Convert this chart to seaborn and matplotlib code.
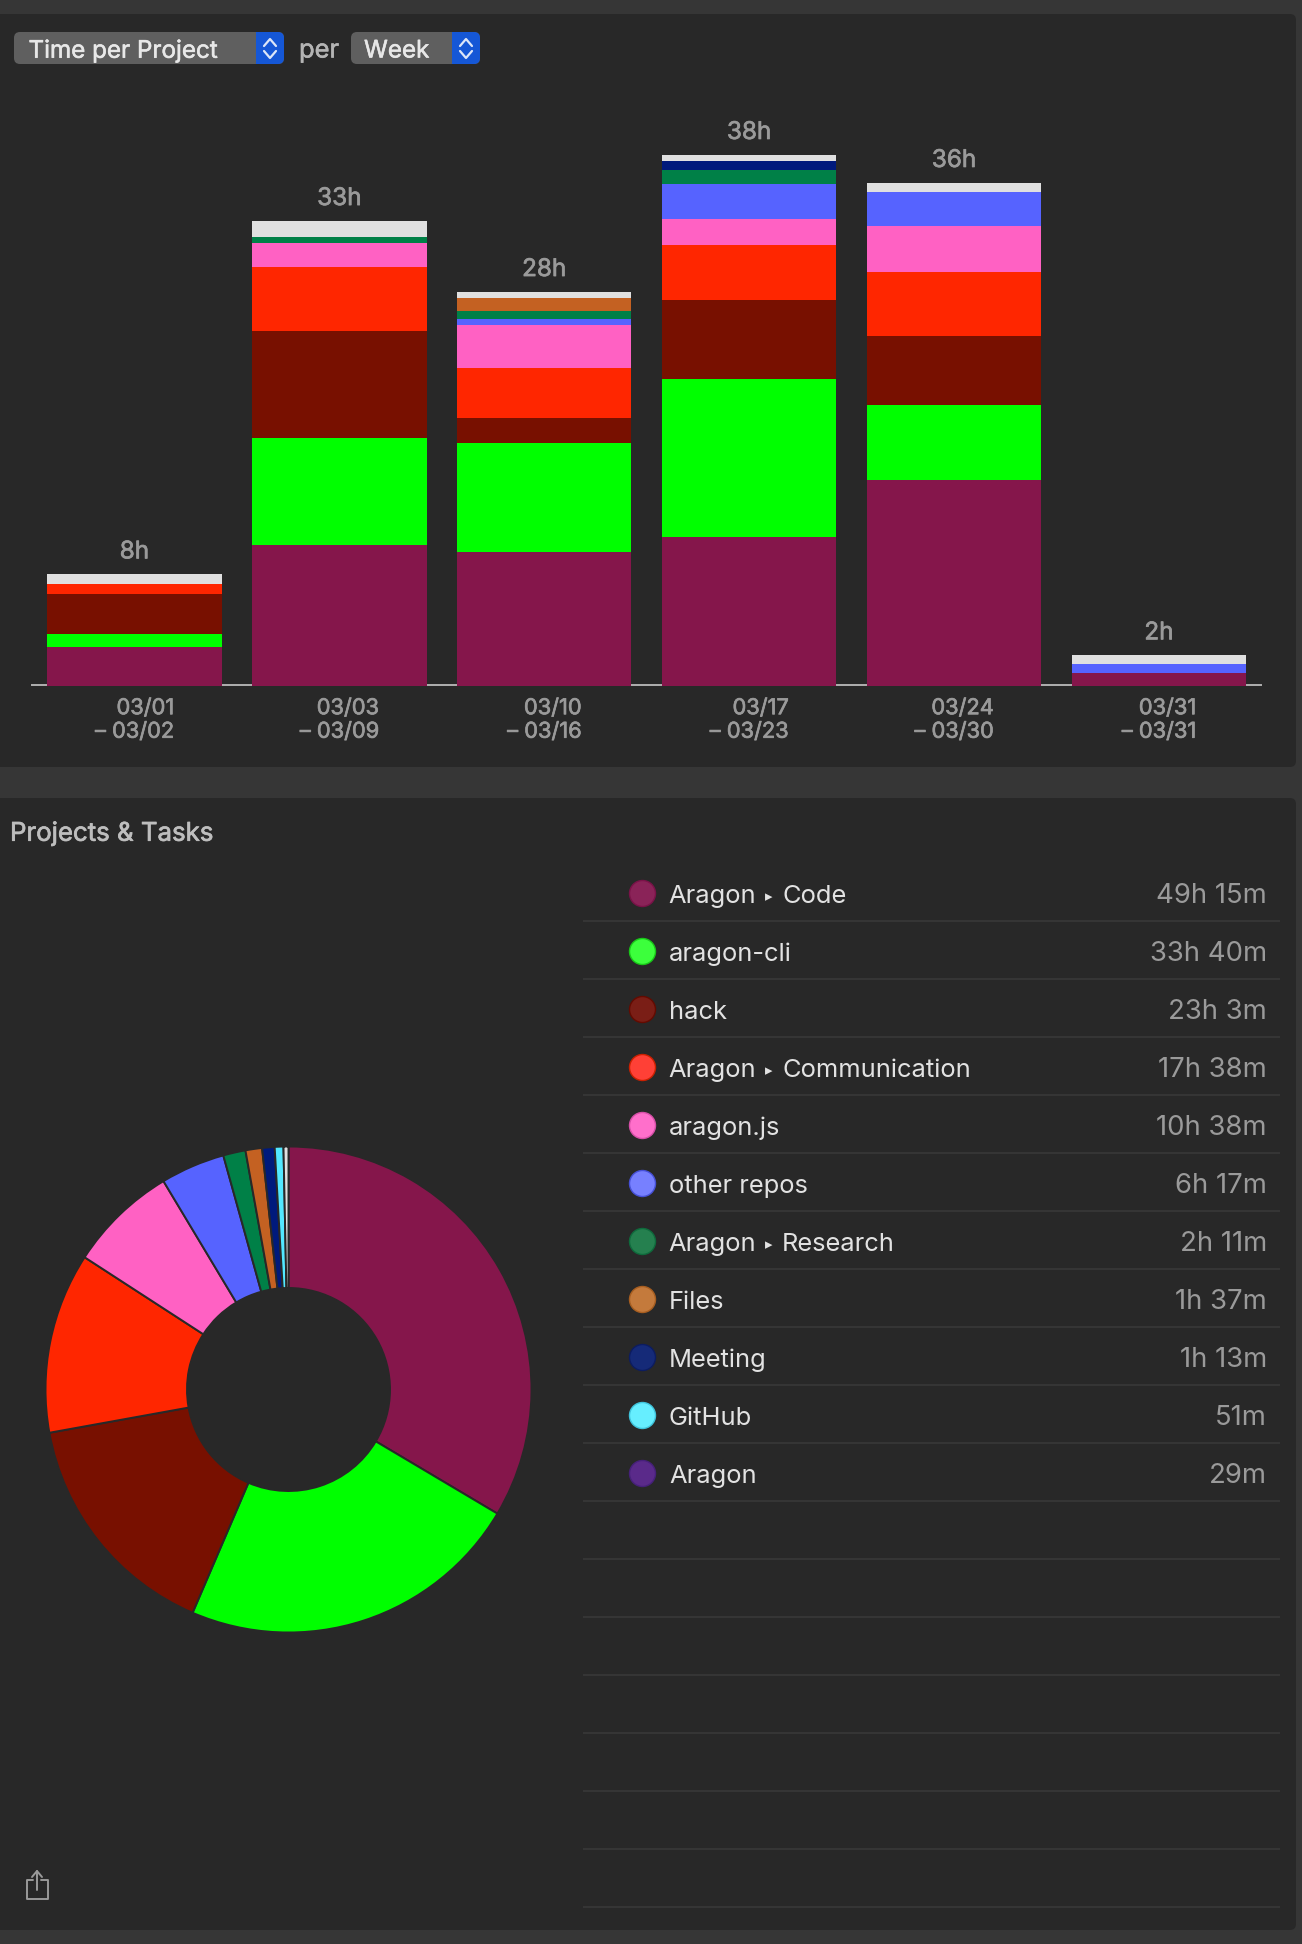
import numpy as np
import matplotlib
matplotlib.use("Agg")
import matplotlib.pyplot as plt
import matplotlib.patheffects as pe
from matplotlib.patches import FancyBboxPatch, Rectangle
import seaborn as sns

# =====================================================
# Data
# =====================================================

weeks = ["03/01\n– 03/02", "03/03\n– 03/09", "03/10\n– 03/16",
         "03/17\n– 03/23", "03/24\n– 03/30", "03/31\n– 03/31"]
total_labels = ["8h", "33h", "28h", "38h", "36h", "2h"]

# hours per week, bottom to top
code = [2.81, 10.05, 9.57, 10.64, 14.69, 0.96]
cli = [0.88, 7.69, 7.81, 11.29, 5.40, 0]
hack = [2.88, 7.62, 1.77, 5.66, 4.91, 0]
comm = [0.71, 4.57, 3.54, 3.91, 4.57, 0]
js = [0, 1.71, 3.07, 1.86, 3.31, 0]
repos = [0, 0, 0.45, 2.50, 2.39, 0.59]
research = [0, 0.41, 0.57, 1.00, 0, 0]
files = [0, 0, 0.95, 0, 0, 0]
meeting = [0, 0, 0, 0.64, 0, 0]
other = [0.69, 1.16, 0.41, 0.43, 0.66, 0.64]

stack_series = [code, cli, hack, comm, js, repos, research, files, meeting, other]
stack_colors = ["#85164B", "#00FF00", "#781000", "#FF2600", "#FF61C3",
                "#5663FF", "#008047", "#C46122", "#001A7C", "#E0E0E0"]

project_names = ["Aragon ▸ Code", "aragon-cli", "hack", "Aragon ▸ Communication",
                 "aragon.js", "other repos", "Aragon ▸ Research", "Files",
                 "Meeting", "GitHub", "Aragon"]
project_times = ["49h 15m", "33h 40m", "23h 3m", "17h 38m", "10h 38m", "6h 17m",
                 "2h 11m", "1h 37m", "1h 13m", "51m", "29m"]
project_minutes = [2955, 2020, 1383, 1058, 638, 377, 131, 97, 73, 51, 29]

pie_colors = ["#85164B", "#00FF00", "#781000", "#FF2600", "#FF61C3", "#5663FF",
              "#008047", "#C46122", "#001A7C", "#52E8FF", "#E0E0E0"]
dot_colors = ["#8A2358", "#3CFF3C", "#7A1E16", "#FF4036", "#FF6FCB", "#7780FF",
              "#25804F", "#C47A3C", "#152A78", "#66EEFF", "#5A2A8A"]
dot_edges = ["#7A1248", "#18C818", "#640A00", "#CC2000", "#D84FA8", "#4650D8",
             "#0E6B3C", "#A85E20", "#0C1C60", "#3FC4DC", "#46207A"]

# =====================================================
# Colours and page
# =====================================================

PANEL = "#282828"
BAND = "#363636"
MUTED = "#9A9A9A"

W, H = 1302, 1944
PX_PER_HOUR = 14
BASELINE = 686
PX = 0.72  # points per pixel at dpi 100

sns.set_theme(style="dark")
plt.rcParams["font.family"] = ["Inter", "DejaVu Sans"]

fig = plt.figure(figsize=(W / 100, H / 100), dpi=100, facecolor=BAND)

ui = fig.add_axes([0, 0, 1, 1])
ui.set_xlim(0, W)
ui.set_ylim(H, 0)
ui.axis("off")

for top, bottom in [(14, 767), (798, 1930)]:
    ui.add_patch(FancyBboxPatch((-20, top), 1316, bottom - top,
                                boxstyle="round,pad=0,rounding_size=6",
                                fc=PANEL, ec="none"))


def px_axes(left, top, right, bottom):
    return fig.add_axes([left / W, 1 - bottom / H, (right - left) / W, (bottom - top) / H])


def heavier(text, color, width=0.5):
    # Inter only comes in regular here, a thin stroke gives the medium look
    text.set_path_effects([pe.withStroke(linewidth=width, foreground=color)])


# =====================================================
# Dropdowns
# =====================================================

def dropdown(x0, x1, split, label, text_x):
    y0, y1 = 32, 64
    ui.add_patch(FancyBboxPatch((x0, y0), x1 - x0, y1 - y0,
                                boxstyle="round,pad=0,rounding_size=6",
                                fc="#5F5F5F", ec="none"))
    blue = FancyBboxPatch((x0, y0), x1 - x0, y1 - y0,
                          boxstyle="round,pad=0,rounding_size=6",
                          fc="#1557D6", ec="none")
    ui.add_patch(blue)
    blue.set_clip_path(Rectangle((split, y0 - 2), x1 - split + 2, y1 - y0 + 4,
                                 transform=ui.transData))
    cx = (split + x1) / 2
    ui.plot([cx - 6, cx, cx + 6], [46, 39, 46], color="#DCE6F8", lw=1.6, solid_capstyle="round")
    ui.plot([cx - 6, cx, cx + 6], [51, 58, 51], color="#DCE6F8", lw=1.6, solid_capstyle="round")
    t = ui.text(text_x, 51, label, color="#E8E8E8", fontsize=24.2 * PX, va="center")
    heavier(t, "#E8E8E8", 0.4)


dropdown(14, 284, 256, "Time per Project", 28.5)
dropdown(351, 480, 452, "Week", 364)
t = ui.text(299, 51, "per", color="#B4B4B4", fontsize=25.5 * PX, va="center")
heavier(t, "#B4B4B4", 0.4)

# =====================================================
# Stacked bars
# =====================================================

ax = px_axes(32, 100, 1261.4, BASELINE)
ax.patch.set_alpha(0)

bottom = np.zeros(len(weeks))
for values, color in zip(stack_series, stack_colors):
    sns.barplot(x=weeks, y=values, color=color, saturation=1, width=0.851,
                bottom=bottom, linewidth=0, errorbar=None, ax=ax)
    bottom = bottom + np.array(values)

ax.set_xlim(-0.5, 5.5)
ax.set_ylim(0, (BASELINE - 100) / PX_PER_HOUR)
ax.set_yticks([])
ax.set_xlabel("")
ax.set_ylabel("")
ax.grid(False)
for side in ["top", "left", "right"]:
    ax.spines[side].set_visible(False)
ax.spines["bottom"].set_color("#B0B0B0")
ax.spines["bottom"].set_linewidth(1.4)
ax.spines["bottom"].set_zorder(0.5)
ax.spines["bottom"].set_position(("outward", -0.7))

ax.tick_params(axis="x", length=0, pad=9.5, labelsize=21.8 * PX, labelcolor=MUTED)
for tick in ax.get_xticklabels():
    tick.set_multialignment("right")
    tick.set_linespacing(1.22)
    heavier(tick, MUTED)

for i, label in enumerate(total_labels):
    t = ax.annotate(label, (i, bottom[i]), xytext=(0, 11 * PX), textcoords="offset points",
                    ha="center", va="bottom", color=MUTED, fontsize=24.3 * PX)
    heavier(t, MUTED)

# =====================================================
# Projects & Tasks
# =====================================================

t = ui.text(10, 834, "Projects & Tasks", color="#BEBEBE", fontsize=25.8 * PX, va="center")
heavier(t, "#BEBEBE")

pie_ax = px_axes(288.5 - 243, 1389.5 - 243, 288.5 + 243, 1389.5 + 243)
pie_ax.pie(project_minutes, colors=pie_colors, startangle=90, counterclock=False,
           wedgeprops=dict(width=1 - 101.5 / 243, edgecolor=PANEL, linewidth=1.4))
pie_ax.set_xlim(-1, 1)
pie_ax.set_ylim(-1, 1)

# =====================================================
# Project list
# =====================================================

ROW = 58
for k in range(18):
    ui.plot([583, 1280], [921 + k * ROW] * 2, color=BAND, lw=1.4, solid_capstyle="butt")

for i, (name, dur) in enumerate(zip(project_names, project_times)):
    y = 893 + i * ROW
    ui.scatter([641.5], [y], s=(26 * PX) ** 2, color=dot_colors[i], edgecolors=dot_edges[i],
               linewidths=1, zorder=3)
    if " ▸ " in name:
        # the arrow sits smaller than the words around it
        first, second = name.split(" ▸ ")
        ui.text(668.5, y + 3, first, color="#E2E2E2", fontsize=25.5 * PX, va="center")
        ui.text(769, y + 4, "▸", color="#E2E2E2", fontsize=15 * PX, va="center", ha="center")
        ui.text(782, y + 3, second, color="#E2E2E2", fontsize=25.5 * PX, va="center")
    else:
        ui.text(669, y + 3, name, color="#E2E2E2", fontsize=25.5 * PX, va="center")
    ui.text(1267, y + 3, dur, color=MUTED, fontsize=27.5 * PX, va="center", ha="right")

# =====================================================
# Share icon
# =====================================================

icon = dict(color="#9A9A9A", lw=1.4, solid_capstyle="round", solid_joinstyle="round")
ui.plot([33, 26.5, 26.5, 48, 48, 41], [1880, 1880, 1899, 1899, 1880, 1880], **icon)
ui.plot([37, 37], [1871, 1890], **icon)
ui.plot([32, 37, 42], [1877, 1871, 1877], **icon)

fig.savefig("out.png", dpi=100, facecolor=fig.get_facecolor())
plt.close(fig)
